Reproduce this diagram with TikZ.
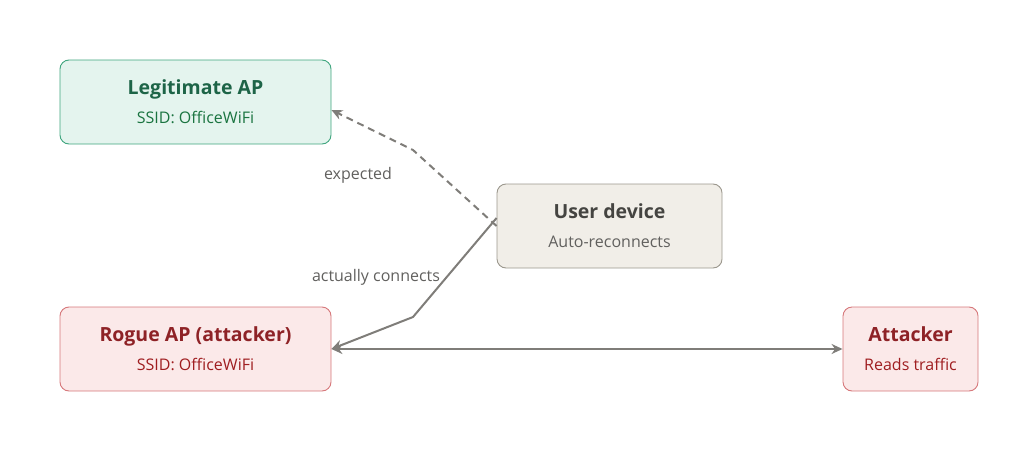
\documentclass[tikz,border=0pt]{standalone}
\usepackage{fontspec}
\setmainfont{Open Sans}
\usetikzlibrary{arrows.meta}
\definecolor{gF}{HTML}{E4F4EE}\definecolor{gD}{HTML}{3FA57E}\definecolor{gT}{HTML}{1D6447}
\definecolor{rF}{HTML}{FBE9E9}\definecolor{rD}{HTML}{D6777A}\definecolor{rT}{HTML}{8E2226}
\definecolor{nF}{HTML}{F1EEE8}\definecolor{nD}{HTML}{9B978D}\definecolor{nT}{HTML}{454441}
\definecolor{ln}{HTML}{7F7D79}
\newcommand{\ttlx}[1]{{\fontsize{19.5}{24}\selectfont\bfseries #1}}
\newcommand{\subx}[1]{{\fontsize{16}{20}\selectfont #1}}
\begin{document}
\begin{tikzpicture}[x=1pt,y=-1pt,
 box/.style={draw,rounded corners=9pt,line width=0.9pt,align=center,inner sep=0pt,font=\fontsize{16}{29}\selectfont},
 lab/.style={font=\fontsize{16}{20}\selectfont,text=nT!85},
 tip/.style={-{Stealth[length=11pt,width=10pt]}}]
\useasboundingbox (0,0) rectangle (1024,452);
\node[box,fill=gF,draw=gD,minimum width=271pt,minimum height=84pt] (legit) at (195.5,102)
 {\textcolor{gT}{\ttlx{Legitimate AP}}\\\textcolor{gT!90!green}{\subx{SSID: OfficeWiFi}}};
\node[box,fill=nF,draw=nD,minimum width=225pt,minimum height=84pt] (user) at (609.5,226)
 {\textcolor{nT}{\ttlx{User device}}\\\textcolor{nT!85}{\subx{Auto-reconnects}}};
\node[box,fill=rF,draw=rD,minimum width=271pt,minimum height=84pt] (rogue) at (195.5,349)
 {\textcolor{rT}{\ttlx{Rogue AP (attacker)}}\\\textcolor{rT!85!red}{\subx{SSID: OfficeWiFi}}};
\node[box,fill=rF,draw=rD,minimum width=135pt,minimum height=84pt] (att) at (910.5,349)
 {\textcolor{rT}{\ttlx{Attacker}}\\\textcolor{rT!85!red}{\subx{Reads traffic}}};
\coordinate (b1) at (413,150);
\coordinate (b2) at (413,317);
\draw[ln,line width=2pt,dash pattern=on 7pt off 5pt,tip] (user.west) -- (b1) -- (legit.east|-0,110);
\draw[ln,line width=2pt,tip] ([yshift=8pt]user.west) -- (b2) -- (rogue.east);
\draw[ln,line width=2pt,{Stealth[length=11pt,width=10pt]}-{Stealth[length=11pt,width=10pt]}] (rogue.east) -- (att.west);
\node[lab] (l1) at (358,175) {expected};
\node[lab] (l2) at (376,277) {actually connects};
\end{tikzpicture}
\end{document}
